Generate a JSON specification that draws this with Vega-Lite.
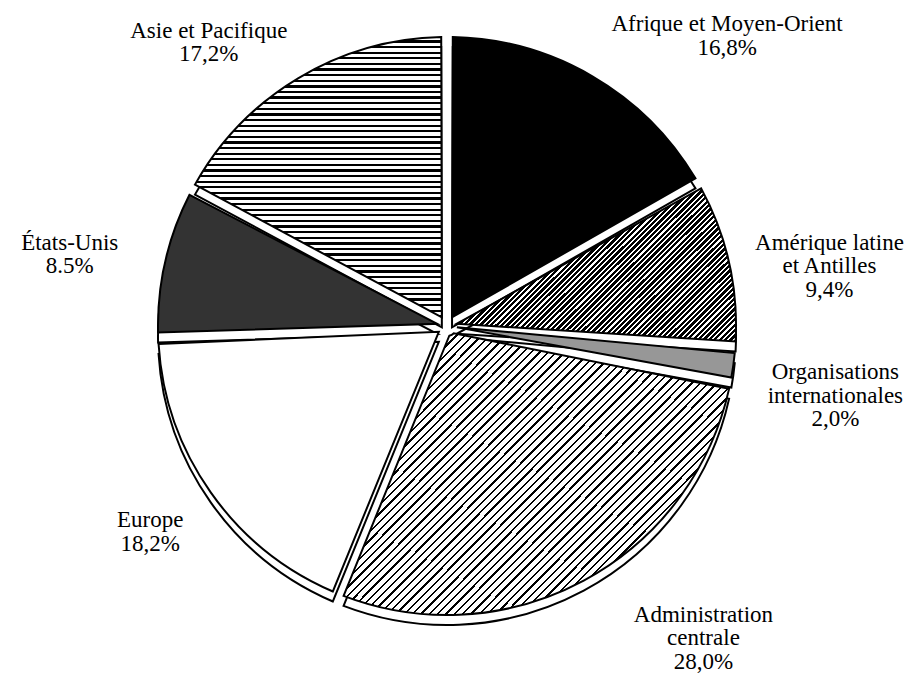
{
"$schema":"https://vega.github.io/schema/vega-lite/v6.json",
"width":894,"height":652,
"autosize":{"type":"none"},
"padding":{"left":0,"top":0,"right":18,"bottom":26},
"background":"#ffffff",
"config":{"view":{"stroke":null}},
"data":{"values":[
{"key":"afr","name":"Afrique et Moyen-Orient","share":"16,8%","pct":16.8,"ord":1},
{"key":"ame","name":"Amérique latine\net Antilles","share":"9,4%","pct":9.4,"ord":2},
{"key":"org","name":"Organisations\ninternationales","share":"2,0%","pct":2.0,"ord":3},
{"key":"adm","name":"Administration\ncentrale","share":"28,0%","pct":28.0,"ord":4},
{"key":"eur","name":"Europe","share":"18,2%","pct":18.2,"ord":5},
{"key":"usa","name":"États-Unis","share":"8.5%","pct":8.5,"ord":6},
{"key":"asi","name":"Asie et Pacifique","share":"17,2%","pct":17.2,"ord":7}
]},
"encoding":{
"theta":{"field":"pct","type":"quantitative","stack":true},
"order":{"field":"ord","type":"quantitative"},
"detail":{"field":"key","type":"nominal"}
},
"layer":[
{"mark":{"type":"arc","outerRadius":289,"innerRadius":10,"padAngle":0.04,"yOffset":10,"fill":"#ffffff","stroke":"#000000","strokeWidth":2}},
{"mark":{"type":"arc","outerRadius":289,"innerRadius":10,"padAngle":0.04,"stroke":"#000000","strokeWidth":2},
"encoding":{"fill":{"condition":[
{"test":"datum.key==='afr'","value":"#000000"},
{"test":"datum.key==='org'","value":"#979797"},
{"test":"datum.key==='usa'","value":"#333333"},
{"test":"datum.key==='asi'","value":{"gradient":"linear","x1":0,"y1":0,"x2":0,"y2":1,"stops":[
{"offset":0,"color":"#fff"},{"offset":0.012,"color":"#fff"},{"offset":0.012,"color":"#000"},{"offset":0.02,"color":"#000"},
{"offset":0.02,"color":"#fff"},{"offset":0.032,"color":"#fff"},{"offset":0.032,"color":"#000"},{"offset":0.04,"color":"#000"},
{"offset":0.04,"color":"#fff"},{"offset":0.052,"color":"#fff"},{"offset":0.052,"color":"#000"},{"offset":0.06,"color":"#000"},
{"offset":0.06,"color":"#fff"},{"offset":0.072,"color":"#fff"},{"offset":0.072,"color":"#000"},{"offset":0.08,"color":"#000"},
{"offset":0.08,"color":"#fff"},{"offset":0.092,"color":"#fff"},{"offset":0.092,"color":"#000"},{"offset":0.1,"color":"#000"},
{"offset":0.1,"color":"#fff"},{"offset":0.112,"color":"#fff"},{"offset":0.112,"color":"#000"},{"offset":0.12,"color":"#000"},
{"offset":0.12,"color":"#fff"},{"offset":0.132,"color":"#fff"},{"offset":0.132,"color":"#000"},{"offset":0.14,"color":"#000"},
{"offset":0.14,"color":"#fff"},{"offset":0.152,"color":"#fff"},{"offset":0.152,"color":"#000"},{"offset":0.16,"color":"#000"},
{"offset":0.16,"color":"#fff"},{"offset":0.172,"color":"#fff"},{"offset":0.172,"color":"#000"},{"offset":0.18,"color":"#000"},
{"offset":0.18,"color":"#fff"},{"offset":0.192,"color":"#fff"},{"offset":0.192,"color":"#000"},{"offset":0.2,"color":"#000"},
{"offset":0.2,"color":"#fff"},{"offset":0.212,"color":"#fff"},{"offset":0.212,"color":"#000"},{"offset":0.22,"color":"#000"},
{"offset":0.22,"color":"#fff"},{"offset":0.232,"color":"#fff"},{"offset":0.232,"color":"#000"},{"offset":0.24,"color":"#000"},
{"offset":0.24,"color":"#fff"},{"offset":0.252,"color":"#fff"},{"offset":0.252,"color":"#000"},{"offset":0.26,"color":"#000"},
{"offset":0.26,"color":"#fff"},{"offset":0.272,"color":"#fff"},{"offset":0.272,"color":"#000"},{"offset":0.28,"color":"#000"},
{"offset":0.28,"color":"#fff"},{"offset":0.292,"color":"#fff"},{"offset":0.292,"color":"#000"},{"offset":0.3,"color":"#000"},
{"offset":0.3,"color":"#fff"},{"offset":0.312,"color":"#fff"},{"offset":0.312,"color":"#000"},{"offset":0.32,"color":"#000"},
{"offset":0.32,"color":"#fff"},{"offset":0.332,"color":"#fff"},{"offset":0.332,"color":"#000"},{"offset":0.34,"color":"#000"},
{"offset":0.34,"color":"#fff"},{"offset":0.352,"color":"#fff"},{"offset":0.352,"color":"#000"},{"offset":0.36,"color":"#000"},
{"offset":0.36,"color":"#fff"},{"offset":0.372,"color":"#fff"},{"offset":0.372,"color":"#000"},{"offset":0.38,"color":"#000"},
{"offset":0.38,"color":"#fff"},{"offset":0.392,"color":"#fff"},{"offset":0.392,"color":"#000"},{"offset":0.4,"color":"#000"},
{"offset":0.4,"color":"#fff"},{"offset":0.412,"color":"#fff"},{"offset":0.412,"color":"#000"},{"offset":0.42,"color":"#000"},
{"offset":0.42,"color":"#fff"},{"offset":0.432,"color":"#fff"},{"offset":0.432,"color":"#000"},{"offset":0.44,"color":"#000"},
{"offset":0.44,"color":"#fff"},{"offset":0.452,"color":"#fff"},{"offset":0.452,"color":"#000"},{"offset":0.46,"color":"#000"},
{"offset":0.46,"color":"#fff"},{"offset":0.472,"color":"#fff"},{"offset":0.472,"color":"#000"},{"offset":0.48,"color":"#000"},
{"offset":0.48,"color":"#fff"},{"offset":0.492,"color":"#fff"},{"offset":0.492,"color":"#000"},{"offset":0.5,"color":"#000"},
{"offset":0.5,"color":"#fff"},{"offset":0.512,"color":"#fff"},{"offset":0.512,"color":"#000"},{"offset":0.52,"color":"#000"},
{"offset":0.52,"color":"#fff"},{"offset":0.532,"color":"#fff"},{"offset":0.532,"color":"#000"},{"offset":0.54,"color":"#000"},
{"offset":0.54,"color":"#fff"},{"offset":0.552,"color":"#fff"},{"offset":0.552,"color":"#000"},{"offset":0.56,"color":"#000"},
{"offset":0.56,"color":"#fff"},{"offset":0.572,"color":"#fff"},{"offset":0.572,"color":"#000"},{"offset":0.58,"color":"#000"},
{"offset":0.58,"color":"#fff"},{"offset":0.592,"color":"#fff"},{"offset":0.592,"color":"#000"},{"offset":0.6,"color":"#000"},
{"offset":0.6,"color":"#fff"},{"offset":0.612,"color":"#fff"},{"offset":0.612,"color":"#000"},{"offset":0.62,"color":"#000"},
{"offset":0.62,"color":"#fff"},{"offset":0.632,"color":"#fff"},{"offset":0.632,"color":"#000"},{"offset":0.64,"color":"#000"},
{"offset":0.64,"color":"#fff"},{"offset":0.652,"color":"#fff"},{"offset":0.652,"color":"#000"},{"offset":0.66,"color":"#000"},
{"offset":0.66,"color":"#fff"},{"offset":0.672,"color":"#fff"},{"offset":0.672,"color":"#000"},{"offset":0.68,"color":"#000"},
{"offset":0.68,"color":"#fff"},{"offset":0.692,"color":"#fff"},{"offset":0.692,"color":"#000"},{"offset":0.7,"color":"#000"},
{"offset":0.7,"color":"#fff"},{"offset":0.712,"color":"#fff"},{"offset":0.712,"color":"#000"},{"offset":0.72,"color":"#000"},
{"offset":0.72,"color":"#fff"},{"offset":0.732,"color":"#fff"},{"offset":0.732,"color":"#000"},{"offset":0.74,"color":"#000"},
{"offset":0.74,"color":"#fff"},{"offset":0.752,"color":"#fff"},{"offset":0.752,"color":"#000"},{"offset":0.76,"color":"#000"},
{"offset":0.76,"color":"#fff"},{"offset":0.772,"color":"#fff"},{"offset":0.772,"color":"#000"},{"offset":0.78,"color":"#000"},
{"offset":0.78,"color":"#fff"},{"offset":0.792,"color":"#fff"},{"offset":0.792,"color":"#000"},{"offset":0.8,"color":"#000"},
{"offset":0.8,"color":"#fff"},{"offset":0.812,"color":"#fff"},{"offset":0.812,"color":"#000"},{"offset":0.82,"color":"#000"},
{"offset":0.82,"color":"#fff"},{"offset":0.832,"color":"#fff"},{"offset":0.832,"color":"#000"},{"offset":0.84,"color":"#000"},
{"offset":0.84,"color":"#fff"},{"offset":0.852,"color":"#fff"},{"offset":0.852,"color":"#000"},{"offset":0.86,"color":"#000"},
{"offset":0.86,"color":"#fff"},{"offset":0.872,"color":"#fff"},{"offset":0.872,"color":"#000"},{"offset":0.88,"color":"#000"},
{"offset":0.88,"color":"#fff"},{"offset":0.892,"color":"#fff"},{"offset":0.892,"color":"#000"},{"offset":0.9,"color":"#000"},
{"offset":0.9,"color":"#fff"},{"offset":0.912,"color":"#fff"},{"offset":0.912,"color":"#000"},{"offset":0.92,"color":"#000"},
{"offset":0.92,"color":"#fff"},{"offset":0.932,"color":"#fff"},{"offset":0.932,"color":"#000"},{"offset":0.94,"color":"#000"},
{"offset":0.94,"color":"#fff"},{"offset":0.952,"color":"#fff"},{"offset":0.952,"color":"#000"},{"offset":0.96,"color":"#000"},
{"offset":0.96,"color":"#fff"},{"offset":0.972,"color":"#fff"},{"offset":0.972,"color":"#000"},{"offset":0.98,"color":"#000"},
{"offset":0.98,"color":"#fff"},{"offset":0.992,"color":"#fff"},{"offset":0.992,"color":"#000"},{"offset":1,"color":"#000"}
]}},
{"test":"datum.key==='adm'","value":{"gradient":"linear","x1":0,"y1":0,"x2":1.13,"y2":0.82,"stops":[
{"offset":0,"color":"#fff"},{"offset":0.009,"color":"#fff"},{"offset":0.009,"color":"#000"},{"offset":0.0125,"color":"#000"},
{"offset":0.0125,"color":"#fff"},{"offset":0.0215,"color":"#fff"},{"offset":0.0215,"color":"#000"},{"offset":0.025,"color":"#000"},
{"offset":0.025,"color":"#fff"},{"offset":0.034,"color":"#fff"},{"offset":0.034,"color":"#000"},{"offset":0.0375,"color":"#000"},
{"offset":0.0375,"color":"#fff"},{"offset":0.0465,"color":"#fff"},{"offset":0.0465,"color":"#000"},{"offset":0.05,"color":"#000"},
{"offset":0.05,"color":"#fff"},{"offset":0.059,"color":"#fff"},{"offset":0.059,"color":"#000"},{"offset":0.0625,"color":"#000"},
{"offset":0.0625,"color":"#fff"},{"offset":0.0715,"color":"#fff"},{"offset":0.0715,"color":"#000"},{"offset":0.075,"color":"#000"},
{"offset":0.075,"color":"#fff"},{"offset":0.084,"color":"#fff"},{"offset":0.084,"color":"#000"},{"offset":0.0875,"color":"#000"},
{"offset":0.0875,"color":"#fff"},{"offset":0.0965,"color":"#fff"},{"offset":0.0965,"color":"#000"},{"offset":0.1,"color":"#000"},
{"offset":0.1,"color":"#fff"},{"offset":0.109,"color":"#fff"},{"offset":0.109,"color":"#000"},{"offset":0.1125,"color":"#000"},
{"offset":0.1125,"color":"#fff"},{"offset":0.1215,"color":"#fff"},{"offset":0.1215,"color":"#000"},{"offset":0.125,"color":"#000"},
{"offset":0.125,"color":"#fff"},{"offset":0.134,"color":"#fff"},{"offset":0.134,"color":"#000"},{"offset":0.1375,"color":"#000"},
{"offset":0.1375,"color":"#fff"},{"offset":0.1465,"color":"#fff"},{"offset":0.1465,"color":"#000"},{"offset":0.15,"color":"#000"},
{"offset":0.15,"color":"#fff"},{"offset":0.159,"color":"#fff"},{"offset":0.159,"color":"#000"},{"offset":0.1625,"color":"#000"},
{"offset":0.1625,"color":"#fff"},{"offset":0.1715,"color":"#fff"},{"offset":0.1715,"color":"#000"},{"offset":0.175,"color":"#000"},
{"offset":0.175,"color":"#fff"},{"offset":0.184,"color":"#fff"},{"offset":0.184,"color":"#000"},{"offset":0.1875,"color":"#000"},
{"offset":0.1875,"color":"#fff"},{"offset":0.1965,"color":"#fff"},{"offset":0.1965,"color":"#000"},{"offset":0.2,"color":"#000"},
{"offset":0.2,"color":"#fff"},{"offset":0.209,"color":"#fff"},{"offset":0.209,"color":"#000"},{"offset":0.2125,"color":"#000"},
{"offset":0.2125,"color":"#fff"},{"offset":0.2215,"color":"#fff"},{"offset":0.2215,"color":"#000"},{"offset":0.225,"color":"#000"},
{"offset":0.225,"color":"#fff"},{"offset":0.234,"color":"#fff"},{"offset":0.234,"color":"#000"},{"offset":0.2375,"color":"#000"},
{"offset":0.2375,"color":"#fff"},{"offset":0.2465,"color":"#fff"},{"offset":0.2465,"color":"#000"},{"offset":0.25,"color":"#000"},
{"offset":0.25,"color":"#fff"},{"offset":0.259,"color":"#fff"},{"offset":0.259,"color":"#000"},{"offset":0.2625,"color":"#000"},
{"offset":0.2625,"color":"#fff"},{"offset":0.2715,"color":"#fff"},{"offset":0.2715,"color":"#000"},{"offset":0.275,"color":"#000"},
{"offset":0.275,"color":"#fff"},{"offset":0.284,"color":"#fff"},{"offset":0.284,"color":"#000"},{"offset":0.2875,"color":"#000"},
{"offset":0.2875,"color":"#fff"},{"offset":0.2965,"color":"#fff"},{"offset":0.2965,"color":"#000"},{"offset":0.3,"color":"#000"},
{"offset":0.3,"color":"#fff"},{"offset":0.309,"color":"#fff"},{"offset":0.309,"color":"#000"},{"offset":0.3125,"color":"#000"},
{"offset":0.3125,"color":"#fff"},{"offset":0.3215,"color":"#fff"},{"offset":0.3215,"color":"#000"},{"offset":0.325,"color":"#000"},
{"offset":0.325,"color":"#fff"},{"offset":0.334,"color":"#fff"},{"offset":0.334,"color":"#000"},{"offset":0.3375,"color":"#000"},
{"offset":0.3375,"color":"#fff"},{"offset":0.3465,"color":"#fff"},{"offset":0.3465,"color":"#000"},{"offset":0.35,"color":"#000"},
{"offset":0.35,"color":"#fff"},{"offset":0.359,"color":"#fff"},{"offset":0.359,"color":"#000"},{"offset":0.3625,"color":"#000"},
{"offset":0.3625,"color":"#fff"},{"offset":0.3715,"color":"#fff"},{"offset":0.3715,"color":"#000"},{"offset":0.375,"color":"#000"},
{"offset":0.375,"color":"#fff"},{"offset":0.384,"color":"#fff"},{"offset":0.384,"color":"#000"},{"offset":0.3875,"color":"#000"},
{"offset":0.3875,"color":"#fff"},{"offset":0.3965,"color":"#fff"},{"offset":0.3965,"color":"#000"},{"offset":0.4,"color":"#000"},
{"offset":0.4,"color":"#fff"},{"offset":0.409,"color":"#fff"},{"offset":0.409,"color":"#000"},{"offset":0.4125,"color":"#000"},
{"offset":0.4125,"color":"#fff"},{"offset":0.4215,"color":"#fff"},{"offset":0.4215,"color":"#000"},{"offset":0.425,"color":"#000"},
{"offset":0.425,"color":"#fff"},{"offset":0.434,"color":"#fff"},{"offset":0.434,"color":"#000"},{"offset":0.4375,"color":"#000"},
{"offset":0.4375,"color":"#fff"},{"offset":0.4465,"color":"#fff"},{"offset":0.4465,"color":"#000"},{"offset":0.45,"color":"#000"},
{"offset":0.45,"color":"#fff"},{"offset":0.459,"color":"#fff"},{"offset":0.459,"color":"#000"},{"offset":0.4625,"color":"#000"},
{"offset":0.4625,"color":"#fff"},{"offset":0.4715,"color":"#fff"},{"offset":0.4715,"color":"#000"},{"offset":0.475,"color":"#000"},
{"offset":0.475,"color":"#fff"},{"offset":0.484,"color":"#fff"},{"offset":0.484,"color":"#000"},{"offset":0.4875,"color":"#000"},
{"offset":0.4875,"color":"#fff"},{"offset":0.4965,"color":"#fff"},{"offset":0.4965,"color":"#000"},{"offset":0.5,"color":"#000"},
{"offset":0.5,"color":"#fff"},{"offset":0.509,"color":"#fff"},{"offset":0.509,"color":"#000"},{"offset":0.5125,"color":"#000"},
{"offset":0.5125,"color":"#fff"},{"offset":0.5215,"color":"#fff"},{"offset":0.5215,"color":"#000"},{"offset":0.525,"color":"#000"},
{"offset":0.525,"color":"#fff"},{"offset":0.534,"color":"#fff"},{"offset":0.534,"color":"#000"},{"offset":0.5375,"color":"#000"},
{"offset":0.5375,"color":"#fff"},{"offset":0.5465,"color":"#fff"},{"offset":0.5465,"color":"#000"},{"offset":0.55,"color":"#000"},
{"offset":0.55,"color":"#fff"},{"offset":0.559,"color":"#fff"},{"offset":0.559,"color":"#000"},{"offset":0.5625,"color":"#000"},
{"offset":0.5625,"color":"#fff"},{"offset":0.5715,"color":"#fff"},{"offset":0.5715,"color":"#000"},{"offset":0.575,"color":"#000"},
{"offset":0.575,"color":"#fff"},{"offset":0.584,"color":"#fff"},{"offset":0.584,"color":"#000"},{"offset":0.5875,"color":"#000"},
{"offset":0.5875,"color":"#fff"},{"offset":0.5965,"color":"#fff"},{"offset":0.5965,"color":"#000"},{"offset":0.6,"color":"#000"},
{"offset":0.6,"color":"#fff"},{"offset":0.609,"color":"#fff"},{"offset":0.609,"color":"#000"},{"offset":0.6125,"color":"#000"},
{"offset":0.6125,"color":"#fff"},{"offset":0.6215,"color":"#fff"},{"offset":0.6215,"color":"#000"},{"offset":0.625,"color":"#000"},
{"offset":0.625,"color":"#fff"},{"offset":0.634,"color":"#fff"},{"offset":0.634,"color":"#000"},{"offset":0.6375,"color":"#000"},
{"offset":0.6375,"color":"#fff"},{"offset":0.6465,"color":"#fff"},{"offset":0.6465,"color":"#000"},{"offset":0.65,"color":"#000"},
{"offset":0.65,"color":"#fff"},{"offset":0.659,"color":"#fff"},{"offset":0.659,"color":"#000"},{"offset":0.6625,"color":"#000"},
{"offset":0.6625,"color":"#fff"},{"offset":0.6715,"color":"#fff"},{"offset":0.6715,"color":"#000"},{"offset":0.675,"color":"#000"},
{"offset":0.675,"color":"#fff"},{"offset":0.684,"color":"#fff"},{"offset":0.684,"color":"#000"},{"offset":0.6875,"color":"#000"},
{"offset":0.6875,"color":"#fff"},{"offset":0.6965,"color":"#fff"},{"offset":0.6965,"color":"#000"},{"offset":0.7,"color":"#000"},
{"offset":0.7,"color":"#fff"},{"offset":0.709,"color":"#fff"},{"offset":0.709,"color":"#000"},{"offset":0.7125,"color":"#000"},
{"offset":0.7125,"color":"#fff"},{"offset":0.7215,"color":"#fff"},{"offset":0.7215,"color":"#000"},{"offset":0.725,"color":"#000"},
{"offset":0.725,"color":"#fff"},{"offset":0.734,"color":"#fff"},{"offset":0.734,"color":"#000"},{"offset":0.7375,"color":"#000"},
{"offset":0.7375,"color":"#fff"},{"offset":0.7465,"color":"#fff"},{"offset":0.7465,"color":"#000"},{"offset":0.75,"color":"#000"},
{"offset":0.75,"color":"#fff"},{"offset":0.759,"color":"#fff"},{"offset":0.759,"color":"#000"},{"offset":0.7625,"color":"#000"},
{"offset":0.7625,"color":"#fff"},{"offset":0.7715,"color":"#fff"},{"offset":0.7715,"color":"#000"},{"offset":0.775,"color":"#000"},
{"offset":0.775,"color":"#fff"},{"offset":0.784,"color":"#fff"},{"offset":0.784,"color":"#000"},{"offset":0.7875,"color":"#000"},
{"offset":0.7875,"color":"#fff"},{"offset":0.7965,"color":"#fff"},{"offset":0.7965,"color":"#000"},{"offset":0.8,"color":"#000"},
{"offset":0.8,"color":"#fff"},{"offset":0.809,"color":"#fff"},{"offset":0.809,"color":"#000"},{"offset":0.8125,"color":"#000"},
{"offset":0.8125,"color":"#fff"},{"offset":0.8215,"color":"#fff"},{"offset":0.8215,"color":"#000"},{"offset":0.825,"color":"#000"},
{"offset":0.825,"color":"#fff"},{"offset":0.834,"color":"#fff"},{"offset":0.834,"color":"#000"},{"offset":0.8375,"color":"#000"},
{"offset":0.8375,"color":"#fff"},{"offset":0.8465,"color":"#fff"},{"offset":0.8465,"color":"#000"},{"offset":0.85,"color":"#000"},
{"offset":0.85,"color":"#fff"},{"offset":0.859,"color":"#fff"},{"offset":0.859,"color":"#000"},{"offset":0.8625,"color":"#000"},
{"offset":0.8625,"color":"#fff"},{"offset":0.8715,"color":"#fff"},{"offset":0.8715,"color":"#000"},{"offset":0.875,"color":"#000"},
{"offset":0.875,"color":"#fff"},{"offset":0.884,"color":"#fff"},{"offset":0.884,"color":"#000"},{"offset":0.8875,"color":"#000"},
{"offset":0.8875,"color":"#fff"},{"offset":0.8965,"color":"#fff"},{"offset":0.8965,"color":"#000"},{"offset":0.9,"color":"#000"},
{"offset":0.9,"color":"#fff"},{"offset":0.909,"color":"#fff"},{"offset":0.909,"color":"#000"},{"offset":0.9125,"color":"#000"},
{"offset":0.9125,"color":"#fff"},{"offset":0.9215,"color":"#fff"},{"offset":0.9215,"color":"#000"},{"offset":0.925,"color":"#000"},
{"offset":0.925,"color":"#fff"},{"offset":0.934,"color":"#fff"},{"offset":0.934,"color":"#000"},{"offset":0.9375,"color":"#000"},
{"offset":0.9375,"color":"#fff"},{"offset":0.9465,"color":"#fff"},{"offset":0.9465,"color":"#000"},{"offset":0.95,"color":"#000"},
{"offset":0.95,"color":"#fff"},{"offset":0.959,"color":"#fff"},{"offset":0.959,"color":"#000"},{"offset":0.9625,"color":"#000"},
{"offset":0.9625,"color":"#fff"},{"offset":0.9715,"color":"#fff"},{"offset":0.9715,"color":"#000"},{"offset":0.975,"color":"#000"},
{"offset":0.975,"color":"#fff"},{"offset":0.984,"color":"#fff"},{"offset":0.984,"color":"#000"},{"offset":0.9875,"color":"#000"},
{"offset":0.9875,"color":"#fff"},{"offset":0.9965,"color":"#fff"},{"offset":0.9965,"color":"#000"},{"offset":1,"color":"#000"}
]}},
{"test":"datum.key==='ame'","value":{"gradient":"linear","x1":0,"y1":0,"x2":1.19,"y2":0.655,"stops":[
{"offset":0,"color":"#fff"},{"offset":0.005,"color":"#fff"},{"offset":0.005,"color":"#000"},{"offset":0.0125,"color":"#000"},
{"offset":0.0125,"color":"#fff"},{"offset":0.0175,"color":"#fff"},{"offset":0.0175,"color":"#000"},{"offset":0.025,"color":"#000"},
{"offset":0.025,"color":"#fff"},{"offset":0.03,"color":"#fff"},{"offset":0.03,"color":"#000"},{"offset":0.0375,"color":"#000"},
{"offset":0.0375,"color":"#fff"},{"offset":0.0425,"color":"#fff"},{"offset":0.0425,"color":"#000"},{"offset":0.05,"color":"#000"},
{"offset":0.05,"color":"#fff"},{"offset":0.055,"color":"#fff"},{"offset":0.055,"color":"#000"},{"offset":0.0625,"color":"#000"},
{"offset":0.0625,"color":"#fff"},{"offset":0.0675,"color":"#fff"},{"offset":0.0675,"color":"#000"},{"offset":0.075,"color":"#000"},
{"offset":0.075,"color":"#fff"},{"offset":0.08,"color":"#fff"},{"offset":0.08,"color":"#000"},{"offset":0.0875,"color":"#000"},
{"offset":0.0875,"color":"#fff"},{"offset":0.0925,"color":"#fff"},{"offset":0.0925,"color":"#000"},{"offset":0.1,"color":"#000"},
{"offset":0.1,"color":"#fff"},{"offset":0.105,"color":"#fff"},{"offset":0.105,"color":"#000"},{"offset":0.1125,"color":"#000"},
{"offset":0.1125,"color":"#fff"},{"offset":0.1175,"color":"#fff"},{"offset":0.1175,"color":"#000"},{"offset":0.125,"color":"#000"},
{"offset":0.125,"color":"#fff"},{"offset":0.13,"color":"#fff"},{"offset":0.13,"color":"#000"},{"offset":0.1375,"color":"#000"},
{"offset":0.1375,"color":"#fff"},{"offset":0.1425,"color":"#fff"},{"offset":0.1425,"color":"#000"},{"offset":0.15,"color":"#000"},
{"offset":0.15,"color":"#fff"},{"offset":0.155,"color":"#fff"},{"offset":0.155,"color":"#000"},{"offset":0.1625,"color":"#000"},
{"offset":0.1625,"color":"#fff"},{"offset":0.1675,"color":"#fff"},{"offset":0.1675,"color":"#000"},{"offset":0.175,"color":"#000"},
{"offset":0.175,"color":"#fff"},{"offset":0.18,"color":"#fff"},{"offset":0.18,"color":"#000"},{"offset":0.1875,"color":"#000"},
{"offset":0.1875,"color":"#fff"},{"offset":0.1925,"color":"#fff"},{"offset":0.1925,"color":"#000"},{"offset":0.2,"color":"#000"},
{"offset":0.2,"color":"#fff"},{"offset":0.205,"color":"#fff"},{"offset":0.205,"color":"#000"},{"offset":0.2125,"color":"#000"},
{"offset":0.2125,"color":"#fff"},{"offset":0.2175,"color":"#fff"},{"offset":0.2175,"color":"#000"},{"offset":0.225,"color":"#000"},
{"offset":0.225,"color":"#fff"},{"offset":0.23,"color":"#fff"},{"offset":0.23,"color":"#000"},{"offset":0.2375,"color":"#000"},
{"offset":0.2375,"color":"#fff"},{"offset":0.2425,"color":"#fff"},{"offset":0.2425,"color":"#000"},{"offset":0.25,"color":"#000"},
{"offset":0.25,"color":"#fff"},{"offset":0.255,"color":"#fff"},{"offset":0.255,"color":"#000"},{"offset":0.2625,"color":"#000"},
{"offset":0.2625,"color":"#fff"},{"offset":0.2675,"color":"#fff"},{"offset":0.2675,"color":"#000"},{"offset":0.275,"color":"#000"},
{"offset":0.275,"color":"#fff"},{"offset":0.28,"color":"#fff"},{"offset":0.28,"color":"#000"},{"offset":0.2875,"color":"#000"},
{"offset":0.2875,"color":"#fff"},{"offset":0.2925,"color":"#fff"},{"offset":0.2925,"color":"#000"},{"offset":0.3,"color":"#000"},
{"offset":0.3,"color":"#fff"},{"offset":0.305,"color":"#fff"},{"offset":0.305,"color":"#000"},{"offset":0.3125,"color":"#000"},
{"offset":0.3125,"color":"#fff"},{"offset":0.3175,"color":"#fff"},{"offset":0.3175,"color":"#000"},{"offset":0.325,"color":"#000"},
{"offset":0.325,"color":"#fff"},{"offset":0.33,"color":"#fff"},{"offset":0.33,"color":"#000"},{"offset":0.3375,"color":"#000"},
{"offset":0.3375,"color":"#fff"},{"offset":0.3425,"color":"#fff"},{"offset":0.3425,"color":"#000"},{"offset":0.35,"color":"#000"},
{"offset":0.35,"color":"#fff"},{"offset":0.355,"color":"#fff"},{"offset":0.355,"color":"#000"},{"offset":0.3625,"color":"#000"},
{"offset":0.3625,"color":"#fff"},{"offset":0.3675,"color":"#fff"},{"offset":0.3675,"color":"#000"},{"offset":0.375,"color":"#000"},
{"offset":0.375,"color":"#fff"},{"offset":0.38,"color":"#fff"},{"offset":0.38,"color":"#000"},{"offset":0.3875,"color":"#000"},
{"offset":0.3875,"color":"#fff"},{"offset":0.3925,"color":"#fff"},{"offset":0.3925,"color":"#000"},{"offset":0.4,"color":"#000"},
{"offset":0.4,"color":"#fff"},{"offset":0.405,"color":"#fff"},{"offset":0.405,"color":"#000"},{"offset":0.4125,"color":"#000"},
{"offset":0.4125,"color":"#fff"},{"offset":0.4175,"color":"#fff"},{"offset":0.4175,"color":"#000"},{"offset":0.425,"color":"#000"},
{"offset":0.425,"color":"#fff"},{"offset":0.43,"color":"#fff"},{"offset":0.43,"color":"#000"},{"offset":0.4375,"color":"#000"},
{"offset":0.4375,"color":"#fff"},{"offset":0.4425,"color":"#fff"},{"offset":0.4425,"color":"#000"},{"offset":0.45,"color":"#000"},
{"offset":0.45,"color":"#fff"},{"offset":0.455,"color":"#fff"},{"offset":0.455,"color":"#000"},{"offset":0.4625,"color":"#000"},
{"offset":0.4625,"color":"#fff"},{"offset":0.4675,"color":"#fff"},{"offset":0.4675,"color":"#000"},{"offset":0.475,"color":"#000"},
{"offset":0.475,"color":"#fff"},{"offset":0.48,"color":"#fff"},{"offset":0.48,"color":"#000"},{"offset":0.4875,"color":"#000"},
{"offset":0.4875,"color":"#fff"},{"offset":0.4925,"color":"#fff"},{"offset":0.4925,"color":"#000"},{"offset":0.5,"color":"#000"},
{"offset":0.5,"color":"#fff"},{"offset":0.505,"color":"#fff"},{"offset":0.505,"color":"#000"},{"offset":0.5125,"color":"#000"},
{"offset":0.5125,"color":"#fff"},{"offset":0.5175,"color":"#fff"},{"offset":0.5175,"color":"#000"},{"offset":0.525,"color":"#000"},
{"offset":0.525,"color":"#fff"},{"offset":0.53,"color":"#fff"},{"offset":0.53,"color":"#000"},{"offset":0.5375,"color":"#000"},
{"offset":0.5375,"color":"#fff"},{"offset":0.5425,"color":"#fff"},{"offset":0.5425,"color":"#000"},{"offset":0.55,"color":"#000"},
{"offset":0.55,"color":"#fff"},{"offset":0.555,"color":"#fff"},{"offset":0.555,"color":"#000"},{"offset":0.5625,"color":"#000"},
{"offset":0.5625,"color":"#fff"},{"offset":0.5675,"color":"#fff"},{"offset":0.5675,"color":"#000"},{"offset":0.575,"color":"#000"},
{"offset":0.575,"color":"#fff"},{"offset":0.58,"color":"#fff"},{"offset":0.58,"color":"#000"},{"offset":0.5875,"color":"#000"},
{"offset":0.5875,"color":"#fff"},{"offset":0.5925,"color":"#fff"},{"offset":0.5925,"color":"#000"},{"offset":0.6,"color":"#000"},
{"offset":0.6,"color":"#fff"},{"offset":0.605,"color":"#fff"},{"offset":0.605,"color":"#000"},{"offset":0.6125,"color":"#000"},
{"offset":0.6125,"color":"#fff"},{"offset":0.6175,"color":"#fff"},{"offset":0.6175,"color":"#000"},{"offset":0.625,"color":"#000"},
{"offset":0.625,"color":"#fff"},{"offset":0.63,"color":"#fff"},{"offset":0.63,"color":"#000"},{"offset":0.6375,"color":"#000"},
{"offset":0.6375,"color":"#fff"},{"offset":0.6425,"color":"#fff"},{"offset":0.6425,"color":"#000"},{"offset":0.65,"color":"#000"},
{"offset":0.65,"color":"#fff"},{"offset":0.655,"color":"#fff"},{"offset":0.655,"color":"#000"},{"offset":0.6625,"color":"#000"},
{"offset":0.6625,"color":"#fff"},{"offset":0.6675,"color":"#fff"},{"offset":0.6675,"color":"#000"},{"offset":0.675,"color":"#000"},
{"offset":0.675,"color":"#fff"},{"offset":0.68,"color":"#fff"},{"offset":0.68,"color":"#000"},{"offset":0.6875,"color":"#000"},
{"offset":0.6875,"color":"#fff"},{"offset":0.6925,"color":"#fff"},{"offset":0.6925,"color":"#000"},{"offset":0.7,"color":"#000"},
{"offset":0.7,"color":"#fff"},{"offset":0.705,"color":"#fff"},{"offset":0.705,"color":"#000"},{"offset":0.7125,"color":"#000"},
{"offset":0.7125,"color":"#fff"},{"offset":0.7175,"color":"#fff"},{"offset":0.7175,"color":"#000"},{"offset":0.725,"color":"#000"},
{"offset":0.725,"color":"#fff"},{"offset":0.73,"color":"#fff"},{"offset":0.73,"color":"#000"},{"offset":0.7375,"color":"#000"},
{"offset":0.7375,"color":"#fff"},{"offset":0.7425,"color":"#fff"},{"offset":0.7425,"color":"#000"},{"offset":0.75,"color":"#000"},
{"offset":0.75,"color":"#fff"},{"offset":0.755,"color":"#fff"},{"offset":0.755,"color":"#000"},{"offset":0.7625,"color":"#000"},
{"offset":0.7625,"color":"#fff"},{"offset":0.7675,"color":"#fff"},{"offset":0.7675,"color":"#000"},{"offset":0.775,"color":"#000"},
{"offset":0.775,"color":"#fff"},{"offset":0.78,"color":"#fff"},{"offset":0.78,"color":"#000"},{"offset":0.7875,"color":"#000"},
{"offset":0.7875,"color":"#fff"},{"offset":0.7925,"color":"#fff"},{"offset":0.7925,"color":"#000"},{"offset":0.8,"color":"#000"},
{"offset":0.8,"color":"#fff"},{"offset":0.805,"color":"#fff"},{"offset":0.805,"color":"#000"},{"offset":0.8125,"color":"#000"},
{"offset":0.8125,"color":"#fff"},{"offset":0.8175,"color":"#fff"},{"offset":0.8175,"color":"#000"},{"offset":0.825,"color":"#000"},
{"offset":0.825,"color":"#fff"},{"offset":0.83,"color":"#fff"},{"offset":0.83,"color":"#000"},{"offset":0.8375,"color":"#000"},
{"offset":0.8375,"color":"#fff"},{"offset":0.8425,"color":"#fff"},{"offset":0.8425,"color":"#000"},{"offset":0.85,"color":"#000"},
{"offset":0.85,"color":"#fff"},{"offset":0.855,"color":"#fff"},{"offset":0.855,"color":"#000"},{"offset":0.8625,"color":"#000"},
{"offset":0.8625,"color":"#fff"},{"offset":0.8675,"color":"#fff"},{"offset":0.8675,"color":"#000"},{"offset":0.875,"color":"#000"},
{"offset":0.875,"color":"#fff"},{"offset":0.88,"color":"#fff"},{"offset":0.88,"color":"#000"},{"offset":0.8875,"color":"#000"},
{"offset":0.8875,"color":"#fff"},{"offset":0.8925,"color":"#fff"},{"offset":0.8925,"color":"#000"},{"offset":0.9,"color":"#000"},
{"offset":0.9,"color":"#fff"},{"offset":0.905,"color":"#fff"},{"offset":0.905,"color":"#000"},{"offset":0.9125,"color":"#000"},
{"offset":0.9125,"color":"#fff"},{"offset":0.9175,"color":"#fff"},{"offset":0.9175,"color":"#000"},{"offset":0.925,"color":"#000"},
{"offset":0.925,"color":"#fff"},{"offset":0.93,"color":"#fff"},{"offset":0.93,"color":"#000"},{"offset":0.9375,"color":"#000"},
{"offset":0.9375,"color":"#fff"},{"offset":0.9425,"color":"#fff"},{"offset":0.9425,"color":"#000"},{"offset":0.95,"color":"#000"},
{"offset":0.95,"color":"#fff"},{"offset":0.955,"color":"#fff"},{"offset":0.955,"color":"#000"},{"offset":0.9625,"color":"#000"},
{"offset":0.9625,"color":"#fff"},{"offset":0.9675,"color":"#fff"},{"offset":0.9675,"color":"#000"},{"offset":0.975,"color":"#000"},
{"offset":0.975,"color":"#fff"},{"offset":0.98,"color":"#fff"},{"offset":0.98,"color":"#000"},{"offset":0.9875,"color":"#000"},
{"offset":0.9875,"color":"#fff"},{"offset":0.9925,"color":"#fff"},{"offset":0.9925,"color":"#000"},{"offset":1,"color":"#000"}
]}}
],"value":"#ffffff"}}},
{"transform":[{"calculate":"datum.name + '\\n' + datum.share","as":"label"}],
"mark":{"type":"text","font":"Liberation Serif","fontSize":23,"lineHeight":23.5,"lineBreak":"\n","align":"center","baseline":"middle","color":"#000000",
"radius":{"expr":"datum.key==='afr'?342:datum.key==='ame'?392:datum.key==='org'?392:datum.key==='adm'?354:datum.key==='eur'?363:datum.key==='usa'?387:337"},
"dx":{"expr":"datum.key==='afr'?108:datum.key==='adm'?89:datum.key==='asi'?-65:0"},
"dy":{"expr":"datum.key==='afr'?-6:datum.key==='asi'?-6:datum.key==='ame'?3:datum.key==='org'?-7:datum.key==='adm'?-23:datum.key==='eur'?-15:3"}},
"encoding":{"text":{"field":"label","type":"nominal"}}}
]
}
